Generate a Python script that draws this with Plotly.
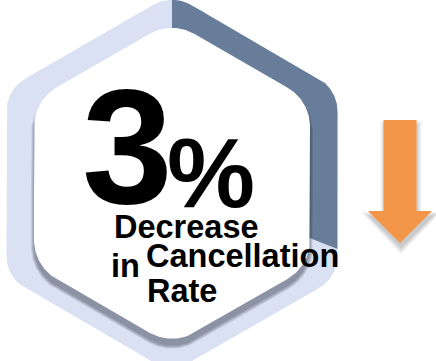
import numpy as np
import plotly.graph_objects as go

# ---------------- data ----------------
headline_value = [3]
headline_suffix = ["%"]
caption_words = ["Decrease", "in", "Cancellation", "Rate"]
ring_labels = ["Highlighted", "Remainder"]
ring_values = [31, 69]
trend_direction = ["down"]

# ---------------- style / layout params ----------------
W, H = 436, 361
FONT = "Liberation Sans, Arial, sans-serif"
LIGHT = "#DAE1F2"
DARK = "#687D99"
ORANGE = "#F4964A"
T30 = np.tan(np.radians(30))

OUT = dict(cx=172, cy=183.5, hw=165.5, vs=94, r=38)
INN = dict(cx=172, cy=183.3, hw=138, vs=82.7, r=45)


def rounded_hex(cx, cy, hw, vs, r, n_arc=40, n_edge=200):
    rise = hw * T30
    verts = [(cx, cy - vs - rise), (cx + hw, cy - vs), (cx + hw, cy + vs),
             (cx, cy + vs + rise), (cx - hw, cy + vs), (cx - hw, cy - vs)]
    arcs = []
    for i in range(6):
        V = np.array(verts[i], float)
        P = np.array(verts[i - 1], float)
        N = np.array(verts[(i + 1) % 6], float)
        u1 = (P - V) / np.linalg.norm(P - V)
        u2 = (N - V) / np.linalg.norm(N - V)
        ang = np.arccos(np.clip(u1 @ u2, -1, 1))
        d = r / np.tan(ang / 2)
        T1 = V + u1 * d
        T2 = V + u2 * d
        bis = u1 + u2
        bis /= np.linalg.norm(bis)
        C = V + bis * (r / np.sin(ang / 2))
        a1 = np.arctan2(T1[1] - C[1], T1[0] - C[0])
        a2 = np.arctan2(T2[1] - C[1], T2[0] - C[0])
        da = (a2 - a1 + np.pi) % (2 * np.pi) - np.pi
        aa = a1 + da * np.linspace(0, 1, n_arc)
        arcs.append(np.c_[C[0] + r * np.cos(aa), C[1] + r * np.sin(aa)])
    pts = []
    for i in range(6):
        pts.append(arcs[i])
        a_end = arcs[i][-1]
        b_start = arcs[(i + 1) % 6][0]
        tt = np.linspace(0, 1, n_edge)[1:-1]
        pts.append(np.outer(1 - tt, a_end) + np.outer(tt, b_start))
    P = np.vstack(pts)
    return np.vstack([P, P[:1]])


def dilate(p, k, dx=0.0, dy=0.0):
    q = dict(p)
    q["cx"] = p["cx"] + dx
    q["cy"] = p["cy"] + dy
    q["hw"] = p["hw"] + k
    q["vs"] = p["vs"] + T30 * k
    q["r"] = p["r"] + k
    return q


def poly_trace(pts, color, opacity=1.0):
    pts = np.asarray(pts, float)
    return go.Scatter(x=pts[:, 0], y=pts[:, 1], mode="lines", fill="toself",
                      fillcolor=color, line=dict(width=0), opacity=opacity,
                      hoverinfo="skip", showlegend=False)


def ray_hit(boundary, phi_all, target):
    d = (phi_all - target + 180) % 360 - 180
    for i in range(len(d) - 1):
        if d[i] <= 0 < d[i + 1] or d[i] >= 0 > d[i + 1]:
            if abs(d[i] - d[i + 1]) < 90:
                t = d[i] / (d[i] - d[i + 1])
                return boundary[i] + t * (boundary[i + 1] - boundary[i])
    return boundary[np.argmin(np.abs(d))]


traces = []

# outer hexagon = remainder share
outer = rounded_hex(**OUT)
traces.append(poly_trace(outer, LIGHT))

# highlighted share: clockwise sector from 12 o'clock
share = ring_values[0] / sum(ring_values)
sweep = 360.0 * share
cx, cy = OUT["cx"], OUT["cy"]
phi = (np.degrees(np.arctan2(outer[:, 1] - cy, outer[:, 0] - cx)) + 90) % 360
mask = (phi > 0.01) & (phi < sweep)
sel = outer[mask]
order = np.argsort(phi[mask])
p_start = ray_hit(outer, phi, 0.0)
p_end = ray_hit(outer, phi, sweep)
sector = np.vstack([[cx, cy], p_start, sel[order], p_end, [cx, cy]])
traces.append(poly_trace(sector, DARK))

# soft drop shadow of the inner hexagon
for k in range(3, -1, -1):
    traces.append(poly_trace(rounded_hex(**dilate(INN, k, dx=0.0, dy=7)),
                             "#1A1F33", opacity=0.12))

# inner white hexagon
traces.append(poly_trace(rounded_hex(**INN), "#FFFFFF"))

# ---- trend arrow ----
AX, SHAFT_HW, SHAFT_TOP, HEAD_Y, HEAD_HW, TIP_Y = 400, 16.5, 120, 211, 32, 243


def arrow_pts(dx=0.0, dy=0.0, g=0.0):
    pts = [(AX - SHAFT_HW - g, SHAFT_TOP - g), (AX + SHAFT_HW + g, SHAFT_TOP - g),
           (AX + SHAFT_HW + g, HEAD_Y - g), (AX + HEAD_HW + 2 * g, HEAD_Y - g),
           (AX, TIP_Y + 1.6 * g), (AX - HEAD_HW - 2 * g, HEAD_Y - g),
           (AX - SHAFT_HW - g, HEAD_Y - g), (AX - SHAFT_HW - g, SHAFT_TOP - g)]
    return np.array([(x + dx, y + dy) for x, y in pts])


if trend_direction[0] == "down":
    for k in range(4, -1, -1):
        traces.append(poly_trace(arrow_pts(dx=1.0, dy=5, g=k), "#000000", opacity=0.045))
    traces.append(poly_trace(arrow_pts(), ORANGE))

fig = go.Figure(traces)


def txt(s, x, y, size):
    fig.add_annotation(text=s, x=x, y=y, xref="x", yref="y", xanchor="left",
                       yanchor="middle", showarrow=False,
                       font=dict(family=FONT, size=size, color="#000000", weight="bold"))


BIG = 163
txt(str(headline_value[0]), 80, 146, BIG)
PCT = 99
txt(headline_suffix[0], 165, 172, PCT)
CAP = 32.5
cap_pos = [(112, 226.5), (109, 265.5), (143.5, 255.5), (145, 290.5)]
for w, (x, yc) in zip(caption_words, cap_pos):
    txt(w, x, yc, CAP)

fig.update_layout(
    width=W, height=H, margin=dict(l=0, r=0, t=0, b=0),
    paper_bgcolor="#FFFFFF", plot_bgcolor="#FFFFFF", showlegend=False,
    xaxis=dict(range=[0, W], visible=False, fixedrange=True),
    yaxis=dict(range=[H, 0], visible=False, fixedrange=True),
)

fig.write_html("out.html", config={"displayModeBar": False},
               post_script="document.body.style.margin='0';document.body.style.overflow='hidden';")
